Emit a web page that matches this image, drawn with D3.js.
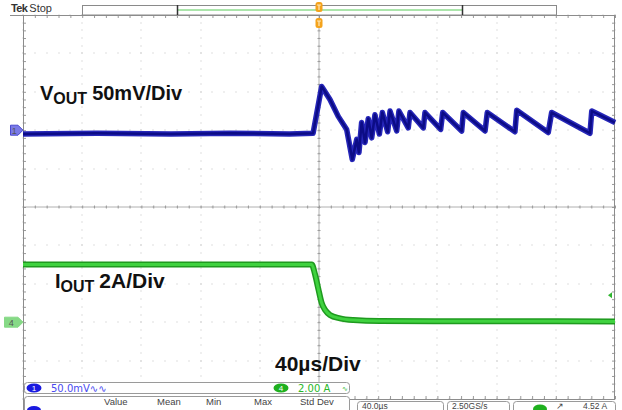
<!DOCTYPE html>
<html>
<head>
<meta charset="utf-8">
<script src="https://cdn.jsdelivr.net/npm/d3@7"></script>
<style>
  html, body { margin: 0; padding: 0; background: #fff; }
  svg { display: block; font-family: "Liberation Sans", Arial, sans-serif; }
</style>
</head>
<body>
<svg id="chart" width="622" height="410"></svg>
<script>
// scope settings
const timePerDivUs = 40;
const voutPerDivMv = 50;
const ioutPerDivA = 2;
const ch1RefDiv = 2;   // ch1 marker position, divisions above centre
const ch4RefDiv = -3;  // ch4 marker position

// Vout deviation (mV) vs time (µs)
const voutTimeUs = [-200, -150, -100, -60, -20, -4, 1.8, 7.4, 13, 18.7, 22.5, 25.5, 27, 28.8, 31.1, 33.3, 35.6, 37.8, 40.8, 42.8, 46.4, 48, 52.5, 54, 60.3, 61.5, 70.5, 71.6, 82.2, 83.6, 96.4, 97.5, 112.2, 113.7, 132.4, 133.6, 154.9, 157.2, 183.1, 184.3, 200];
const voutMv =     [-5, -4, -5, -4, -5, -4, 57, 40, 18, 1, -38, -12, -29, 10, -16, 15, -10, 20, -5, 23, -2, 25, -1, 25, 3, 23, 3, 23, 1, 23, -1, 23, -1, 23, -2, 26, -3, 23, -4, 25, 10];

// Iout (A) vs time (µs)
const ioutTimeUs = [-200, -100, -4.9, -2.7, -0.5, 1.8, 4.1, 7.4, 14.2, 23.2, 41, 120, 200];
const ioutA =      [3.0, 3.0, 3.0, 2.5, 1.75, 1.0, 0.64, 0.38, 0.2, 0.11, 0.06, 0.05, 0.04];

const measHeaders = ['Value', 'Mean', 'Min', 'Max', 'Std Dev'];

const svg = d3.select('#chart');
const W = 622, H = 410;
const plot = {left: 23, right: 615, top: 15, bottom: 399};

const x = d3.scaleLinear().domain([-5 * timePerDivUs, 5 * timePerDivUs]).range([plot.left, plot.right]);
const yDiv = d3.scaleLinear().domain([-5, 5]).range([plot.bottom, plot.top]);
const yV = d3.scaleLinear().domain([-(5 + ch1RefDiv) * voutPerDivMv, (5 - ch1RefDiv) * voutPerDivMv]).range([plot.bottom, plot.top]);
const yI = d3.scaleLinear().domain([-(5 + ch4RefDiv) * ioutPerDivA, (5 - ch4RefDiv) * ioutPerDivA]).range([plot.bottom, plot.top]);

svg.append('rect').attr('width', W).attr('height', H).attr('fill', '#fff');

// graticule dots
const majorT = d3.range(-5, 6).map(d => d * timePerDivUs);
const minorT = d3.range(-25, 26).map(d => d * timePerDivUs / 5);
const majorD = d3.range(-5, 6);
const minorD = d3.range(-25, 26).map(d => d / 5);
const dots = [];
majorT.forEach(t => minorD.forEach(v => dots.push([x(t), yDiv(v)])));
majorD.forEach(v => minorT.forEach(t => dots.push([x(t), yDiv(v)])));
svg.append('g').selectAll('rect').data(dots).enter().append('rect')
  .attr('x', d => Math.round(d[0]) - 0.5).attr('y', d => Math.round(d[1]) - 0.5)
  .attr('width', 1).attr('height', 1).attr('fill', '#c0c0c0');

// centre lines with minor ticks
const g = svg.append('g').attr('class', 'graticule');
g.append('line').attr('x1', plot.left).attr('x2', plot.right).attr('y1', yDiv(0)).attr('y2', yDiv(0)).attr('stroke', '#b0b0b0');
g.append('line').attr('x1', x(0)).attr('x2', x(0)).attr('y1', plot.top).attr('y2', plot.bottom).attr('stroke', '#b0b0b0');
const tickAxes = [
  {axis: d3.axisBottom(x).tickValues(minorT).tickSize(3), tr: `translate(0,${yDiv(0) - 1.5})`},
  {axis: d3.axisLeft(yDiv).tickValues(minorD).tickSize(3), tr: `translate(${x(0) + 1.5},0)`},
  {axis: d3.axisBottom(x).tickValues(minorT).tickSize(3), tr: `translate(0,${plot.top})`},
  {axis: d3.axisTop(x).tickValues(minorT).tickSize(3), tr: `translate(0,${plot.bottom})`},
  {axis: d3.axisRight(yDiv).tickValues(minorD).tickSize(3), tr: `translate(${plot.left},0)`},
  {axis: d3.axisLeft(yDiv).tickValues(minorD).tickSize(3), tr: `translate(${plot.right},0)`}
];
tickAxes.forEach(a => {
  const ag = g.append('g').attr('transform', a.tr).call(a.axis.tickFormat(''));
  ag.select('.domain').remove();
  ag.selectAll('line').attr('stroke', '#9a9a9a');
});
g.append('rect').attr('x', plot.left + 0.5).attr('y', plot.top + 0.5)
  .attr('width', plot.right - plot.left - 1).attr('height', plot.bottom - plot.top)
  .attr('fill', 'none').attr('stroke', '#8c8c8c');
g.append('line').attr('x1', 10).attr('x2', plot.left).attr('y1', plot.top + 0.5).attr('y2', plot.top + 0.5).attr('stroke', '#8c8c8c');
g.append('line').attr('x1', plot.left + 0.5).attr('x2', plot.left + 0.5).attr('y1', plot.bottom).attr('y2', H).attr('stroke', '#8c8c8c');

// top bar: Tek Stop and record view
svg.append('text').attr('x', 11).attr('y', 12).attr('font-size', 11).attr('fill', '#333')
  .call(t => {
    t.append('tspan').attr('font-weight', 'bold').attr('letter-spacing', -0.6).text('Tek');
    t.append('tspan').attr('dx', 2).text('Stop');
  });
svg.append('rect').attr('x', 82.5).attr('y', 5.5).attr('width', 474).attr('height', 9.5)
  .attr('fill', '#fff').attr('stroke', '#8a8a8a');
svg.append('line').attr('x1', 178).attr('x2', 462).attr('y1', 10).attr('y2', 10).attr('stroke', '#8fdc8f').attr('stroke-width', 1.5);
[177.5, 462.5].forEach(px => svg.append('line').attr('x1', px).attr('x2', px).attr('y1', 5).attr('y2', 15).attr('stroke', '#333').attr('stroke-width', 1.5));
// trigger markers
[[2, 12], [18, 28]].forEach(([a, b]) => {
  svg.append('rect').attr('x', x(0) - 3.5).attr('y', a).attr('width', 7).attr('height', b - a).attr('rx', 2.5)
    .attr('fill', '#f4a31c');
  svg.append('path').attr('d', `M${x(0) - 2},${a + 3}H${x(0) + 2}M${x(0)},${a + 3}V${b - 2}`)
    .attr('stroke', '#fde6b8').attr('stroke-width', 1.2).attr('fill', 'none');
});

// traces
const voutData = voutTimeUs.map((t, i) => [t, voutMv[i]]);
const ioutData = ioutTimeUs.map((t, i) => [t, ioutA[i]]);
const vLine = d3.line().x(d => x(d[0])).y(d => yV(d[1])).curve(d3.curveLinear);
const iLine = d3.line().x(d => x(d[0])).y(d => yI(d[1])).curve(d3.curveMonotoneX);

svg.append('path').datum(ioutData).attr('d', iLine).attr('fill', 'none')
  .attr('stroke', '#1f9a1f').attr('stroke-width', 6).attr('stroke-linejoin', 'round');
svg.append('path').datum(ioutData).attr('d', iLine).attr('fill', 'none')
  .attr('stroke', '#3fd23f').attr('stroke-width', 3);

svg.append('path').datum(voutData).attr('d', vLine).attr('fill', 'none')
  .attr('stroke', '#2626b8').attr('stroke-width', 5.5).attr('stroke-linejoin', 'round');
svg.append('path').datum(voutData).attr('d', vLine).attr('fill', 'none')
  .attr('stroke', '#0c0c86').attr('stroke-width', 2.5).attr('stroke-linejoin', 'round');

// channel reference markers
function chMarker(yPos, x0, fill, stroke, label) {
  svg.append('path').attr('d', `M${x0},${yPos - 5}H18L23,${yPos}L18,${yPos + 5}H${x0}Z`)
    .attr('fill', fill).attr('stroke', stroke);
  svg.append('text').attr('x', (x0 + 18) / 2).attr('y', yPos + 3.5).attr('text-anchor', 'middle')
    .attr('font-size', 9).attr('fill', '#555').text(label);
}
chMarker(yV(0), 10.5, '#7a7ae6', '#4a4ad0', '1');
chMarker(yI(0), 4.5, '#86d986', '#86d986', '4');
svg.append('path').attr('d', `M608,${yDiv(-2.3)}l4,-3v6z`).attr('fill', '#2fb52f');

// annotations
const big = svg.append('g').attr('font-weight', 'bold').attr('fill', '#111');
big.append('text').attr('x', 40).attr('y', 100).attr('font-size', 20).call(t => {
  t.append('tspan').text('V');
  t.append('tspan').attr('font-size', 16).attr('dy', 4).text('OUT');
  t.append('tspan').attr('dy', -4).attr('dx', 5).text('50mV/Div');
});
big.append('text').attr('x', 55).attr('y', 288).attr('font-size', 20).call(t => {
  t.append('tspan').text('I');
  t.append('tspan').attr('font-size', 16).attr('dy', 4).text('OUT');
  t.append('tspan').attr('dy', -4).attr('dx', 5).attr('font-size', 21).text('2A/Div');
});
big.append('text').attr('x', 275).attr('y', 371).attr('font-size', 21).text('40µs/Div');

// readout strip
svg.append('rect').attr('x', 24.5).attr('y', 382.5).attr('width', 325).attr('height', 11).attr('rx', 3)
  .attr('fill', '#fff').attr('stroke', '#9a9a9a');
svg.append('ellipse').attr('cx', 34).attr('cy', 388).attr('rx', 7.5).attr('ry', 4.5).attr('fill', '#1a1ae0');
svg.append('text').attr('x', 34).attr('y', 391).attr('text-anchor', 'middle').attr('font-size', 8).attr('fill', '#fff').text('1');
svg.append('text').attr('x', 51).attr('y', 392).attr('font-size', 10).attr('fill', '#4a4af0')
  .attr('font-family', '"DejaVu Sans", sans-serif').text('50.0mV∿∿');
svg.append('ellipse').attr('cx', 281).attr('cy', 388).attr('rx', 7.5).attr('ry', 4.5).attr('fill', '#1fb01f');
svg.append('text').attr('x', 281).attr('y', 391).attr('text-anchor', 'middle').attr('font-size', 8).attr('fill', '#fff').text('4');
svg.append('text').attr('x', 298).attr('y', 392).attr('font-size', 10).attr('fill', '#28b828')
  .attr('font-family', '"DejaVu Sans", sans-serif').text('2.00 A');
svg.append('text').attr('x', 342).attr('y', 391).attr('font-size', 7).attr('fill', '#28b828').text('∿');

// measurement table header
svg.append('rect').attr('x', 24.5).attr('y', 396.5).attr('width', 325).attr('height', 20).attr('rx', 3)
  .attr('fill', '#fff').attr('stroke', '#9a9a9a');
const measX = [104, 157, 206, 254, 300];
measHeaders.forEach((h, i) => svg.append('text').attr('x', measX[i]).attr('y', 405).attr('font-size', 9.5)
  .attr('fill', '#444').text(h));
svg.append('ellipse').attr('cx', 34).attr('cy', 410).attr('rx', 7).attr('ry', 4).attr('fill', '#1a1ae0');

// horizontal / acquisition boxes
const boxes = [[357, 86], [447, 62], [513, 102]];
boxes.forEach(b => svg.append('rect').attr('x', b[0] + 0.5).attr('y', 401.5).attr('width', b[1]).attr('height', 14).attr('rx', 3)
  .attr('fill', '#fff').attr('stroke', '#9a9a9a'));
const boxText = svg.append('g').attr('font-size', 8.5).attr('fill', '#444');
boxText.append('text').attr('x', 362).attr('y', 409).text('40.0µs');
boxText.append('text').attr('x', 452).attr('y', 409).text('2.50GS/s');
svg.append('ellipse').attr('cx', 540).attr('cy', 409).attr('rx', 7).attr('ry', 4.5).attr('fill', '#1fb01f');
boxText.append('text').attr('x', 556).attr('y', 409).text('↗');
boxText.append('text').attr('x', 583).attr('y', 409).text('4.52 A');
</script>
</body>
</html>
